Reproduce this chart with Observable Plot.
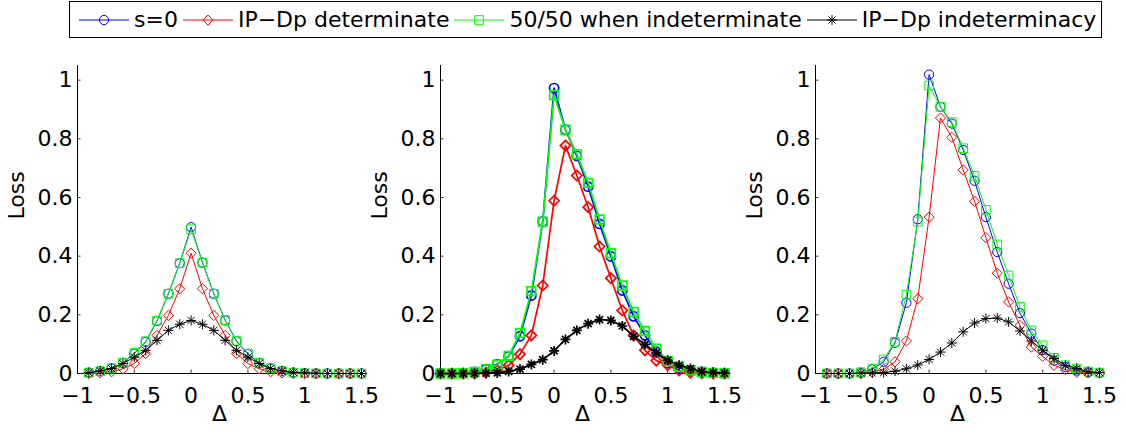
<!DOCTYPE html>
<html><head><meta charset="utf-8">
<script src="https://cdn.jsdelivr.net/npm/d3@7"></script>
<script src="https://cdn.jsdelivr.net/npm/@observablehq/plot@0.6"></script>
<style>
body{margin:0;background:#fff;}
#root{position:relative;width:1126px;height:434px;overflow:hidden;background:#fff;font-family:"DejaVu Sans",sans-serif;}
#legend{position:absolute;left:69px;top:1px;height:37px;border:1px solid #000;display:flex;align-items:center;padding:0 0 0 9px;box-sizing:border-box;background:#fff;}
.item{display:flex;align-items:center;margin-right:5px;font-size:22px;white-space:nowrap;color:#000;}
.item svg{margin-right:5px;display:block;}
.panel{position:absolute;top:55px;}
</style></head><body>
<div id="root">
  <div id="legend"></div>
  <div class="panel" id="p1" style="left:0px"></div>
  <div class="panel" id="p2" style="left:363px"></div>
  <div class="panel" id="p3" style="left:738px"></div>
</div>
<script>
// ---------- data ----------
const seriesNames = ["s=0", "IP\u2212Dp determinate", "50/50 when indeterminate", "IP\u2212Dp indeterminacy"];
const xTicks = [-1, -0.5, 0, 0.5, 1, 1.5];
const yTicks = [0, 0.2, 0.4, 0.6, 0.8, 1];
const xDomain = [-1, 1.5];
const yDomain = [0, 1.05];
const xLabel = "\u0394";
const yLabel = "Loss";

// panel 1
const x1 = [-0.9, -0.8, -0.7, -0.6, -0.5, -0.4, -0.3, -0.2, -0.1, 0, 0.1, 0.2, 0.3, 0.4, 0.5, 0.6, 0.7, 0.8, 0.9, 1.0, 1.1, 1.2, 1.3, 1.4, 1.5];
const p1S0   = [0.003, 0.008, 0.017, 0.036, 0.068, 0.108, 0.179, 0.272, 0.376, 0.499, 0.378, 0.272, 0.181, 0.110, 0.066, 0.036, 0.017, 0.008, 0.003, 0.001, 0, 0, 0, 0, 0];
const p1Det  = [0.000, 0.002, 0.006, 0.016, 0.034, 0.068, 0.130, 0.198, 0.289, 0.410, 0.289, 0.198, 0.130, 0.068, 0.034, 0.016, 0.006, 0.002, 0, 0, 0, 0, 0, 0, 0];
const p1Half = [0.003, 0.008, 0.018, 0.037, 0.070, 0.110, 0.180, 0.272, 0.376, 0.492, 0.378, 0.272, 0.182, 0.112, 0.068, 0.037, 0.018, 0.008, 0.003, 0.001, 0, 0, 0, 0, 0];
const p1Ind  = [0.003, 0.009, 0.017, 0.034, 0.056, 0.079, 0.113, 0.147, 0.168, 0.181, 0.168, 0.147, 0.113, 0.079, 0.056, 0.034, 0.017, 0.009, 0.004, 0.002, 0.001, 0, 0, 0, 0];

// panel 2
const x2 = [-1.0, -0.9, -0.8, -0.7, -0.6, -0.5, -0.4, -0.3, -0.2, -0.1, 0, 0.1, 0.2, 0.3, 0.4, 0.5, 0.6, 0.7, 0.8, 0.9, 1.0, 1.1, 1.2, 1.3, 1.4, 1.5];
const p2S0   = [0, 0, 0.001, 0.005, 0.014, 0.032, 0.059, 0.127, 0.266, 0.518, 0.973, 0.831, 0.742, 0.637, 0.510, 0.399, 0.283, 0.195, 0.130, 0.074, 0.035, 0.020, 0.010, 0.005, 0.002, 0.001];
const p2Det  = [0, 0, 0, 0, 0.003, 0.011, 0.028, 0.066, 0.130, 0.300, 0.589, 0.777, 0.675, 0.567, 0.433, 0.325, 0.215, 0.130, 0.079, 0.044, 0.028, 0.010, 0.003, 0.001, 0, 0];
const p2Half = [0, 0, 0.001, 0.005, 0.015, 0.030, 0.060, 0.138, 0.281, 0.518, 0.949, 0.831, 0.748, 0.650, 0.525, 0.410, 0.300, 0.210, 0.145, 0.085, 0.042, 0.023, 0.011, 0.005, 0.002, 0.001];
const p2Ind  = [0, 0, 0, 0, 0.001, 0.002, 0.007, 0.015, 0.031, 0.047, 0.077, 0.116, 0.147, 0.170, 0.184, 0.181, 0.162, 0.127, 0.099, 0.070, 0.045, 0.028, 0.017, 0.006, 0.003, 0.001];

// panel 3
const x3 = [-0.9, -0.8, -0.7, -0.6, -0.5, -0.4, -0.3, -0.2, -0.1, 0, 0.1, 0.2, 0.3, 0.4, 0.5, 0.6, 0.7, 0.8, 0.9, 1.0, 1.1, 1.2, 1.3, 1.4, 1.5];
const p3S0   = [0, 0, 0, 0.003, 0.014, 0.040, 0.105, 0.241, 0.526, 1.019, 0.909, 0.852, 0.762, 0.657, 0.533, 0.414, 0.306, 0.206, 0.136, 0.080, 0.044, 0.022, 0.010, 0.004, 0.002];
const p3Det  = [0, 0, 0, 0, 0.004, 0.014, 0.040, 0.111, 0.255, 0.533, 0.871, 0.805, 0.694, 0.587, 0.463, 0.342, 0.244, 0.164, 0.090, 0.058, 0.028, 0.013, 0.004, 0.002, 0.001];
const p3Half = [0, 0, 0, 0.004, 0.017, 0.048, 0.108, 0.269, 0.518, 0.982, 0.909, 0.857, 0.768, 0.674, 0.558, 0.440, 0.334, 0.227, 0.147, 0.096, 0.054, 0.028, 0.017, 0.007, 0.003];
const p3Ind  = [0, 0, 0, 0.001, 0.002, 0.003, 0.008, 0.016, 0.029, 0.048, 0.073, 0.104, 0.142, 0.172, 0.187, 0.189, 0.176, 0.145, 0.111, 0.079, 0.051, 0.028, 0.017, 0.006, 0.003];

// ---------- styles ----------
const asterisk8 = {
  draw(ctx, size) {
    const r = Math.sqrt(size / Math.PI);
    for (let a = 0; a < 4; a++) {
      const t = a * Math.PI / 4, c = Math.cos(t) * r, s = Math.sin(t) * r;
      ctx.moveTo(c, s); ctx.lineTo(-c, -s);
    }
  }
};
const seriesColors = ["#0000ff", "#ff0000", "#00ff00", "#000000"];
const seriesSymbols = ["circle", "diamond2", "square2", asterisk8];
const seriesR = [4.6, 4.6, 5.5, 5];
const d3Symbols = [d3.symbolCircle, d3.symbolDiamond2, d3.symbolSquare2, asterisk8];

const fmt = d => (d < 0 ? "\u2212" : "") + String(Math.abs(d));

const W = 371, H = 379, ML = 77, MR = 10, MT = 10, MB = 61;
const FW = W - ML - MR, FH = H - MT - MB;

function panel(xs, vals, sw) {
  const marks = [
    Plot.tickX(xTicks, {x: d => d, insetTop: FH - 3.5, stroke: "#000", strokeWidth: 0.8}),
    Plot.tickY(yTicks, {y: d => d, insetRight: FW - 3.5, stroke: "#000", strokeWidth: 0.8})
  ];
  vals.forEach((v, k) => {
    const data = xs.map((x, i) => ({x, y: v[i]}));
    marks.push(Plot.line(data, {x: "x", y: "y", stroke: seriesColors[k], strokeWidth: sw}));
    marks.push(Plot.dot(data, {x: "x", y: "y", symbol: seriesSymbols[k], r: seriesR[k], stroke: seriesColors[k], fill: "none", strokeWidth: sw}));
  });
  marks.push(Plot.text([yLabel], {frameAnchor: "left", dx: -61, rotate: -90, fontSize: 22, fill: "#000"}));
  marks.push(Plot.text([xLabel], {frameAnchor: "bottom", dy: 47, fontSize: 22, fill: "#000"}));
  return Plot.plot({
    width: W, height: H, marginLeft: ML, marginRight: MR, marginTop: MT, marginBottom: MB,
    style: {fontFamily: "DejaVu Sans", fontSize: "22px", background: "transparent", color: "#000", overflow: "visible"},
    x: {domain: xDomain, ticks: xTicks, tickFormat: fmt, tickSize: 0, tickPadding: 14, line: true, label: null},
    y: {domain: yDomain, ticks: yTicks, tickFormat: fmt, tickSize: 0, tickPadding: 5, line: true, label: null},
    marks
  });
}

document.getElementById("p1").appendChild(panel(x1, [p1S0, p1Det, p1Half, p1Ind], 1));
document.getElementById("p2").appendChild(panel(x2, [p2S0, p2Det, p2Half, p2Ind], 1.7));
document.getElementById("p3").appendChild(panel(x3, [p3S0, p3Det, p3Half, p3Ind], 1));

// ---------- legend ----------
const legend = document.getElementById("legend");
seriesNames.forEach((name, k) => {
  const item = document.createElement("div");
  item.className = "item";
  const svg = d3.create("svg").attr("width", 50).attr("height", 20);
  svg.append("line").attr("x1", 0).attr("x2", 50).attr("y1", 10).attr("y2", 10)
    .attr("stroke", seriesColors[k]).attr("stroke-width", 1);
  svg.append("path").attr("transform", "translate(25,10)")
    .attr("d", d3.symbol(d3Symbols[k], Math.PI * seriesR[k] * seriesR[k])())
    .attr("fill", "none").attr("stroke", seriesColors[k]).attr("stroke-width", 1);
  item.appendChild(svg.node());
  const span = document.createElement("span");
  span.textContent = name;
  item.appendChild(span);
  legend.appendChild(item);
});
</script>
</body></html>
